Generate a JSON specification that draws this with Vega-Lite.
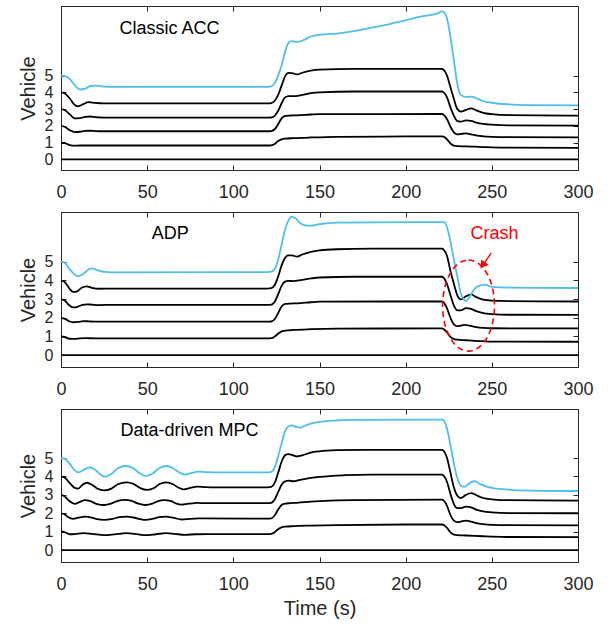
{
"$schema": "https://vega.github.io/schema/vega-lite/v6.json",
"padding": {"left": 17, "top": 5, "right": 5, "bottom": 5},
"background": "white",
"config": {
  "font": "Liberation Sans",
  "view": {"stroke": "#262626", "strokeWidth": 1},
  "axis": {"grid": false, "domainColor": "#262626", "tickColor": "#262626", "labelColor": "#262626", "titleColor": "#262626", "labelFont": "Liberation Sans", "titleFont": "Liberation Sans", "labelFontSize": 18, "titleFontSize": 20, "titleFontWeight": "normal", "tickSize": -5, "labelFlush": false, "labelOverlap": false},
  "axisY": {"labelFontSize": 16},
  "line": {"strokeWidth": 1.8, "interpolate": "monotone"},
  "text": {"font": "Liberation Sans", "fontSize": 18, "color": "#000000"}
},
"spacing": 42,
"bounds": "flush",
"datasets": {
"acc": [
{"v":0,"t":0,"y":0},{"v":0,"t":300,"y":0},
{"v":1,"t":0,"y":1.0},{"v":1,"t":2,"y":0.98},{"v":1,"t":5,"y":0.86},{"v":1,"t":8,"y":0.82},{"v":1,"t":11,"y":0.83},{"v":1,"t":120,"y":0.83},{"v":1,"t":122,"y":0.84},{"v":1,"t":124,"y":0.92},{"v":1,"t":126,"y":1.1},{"v":1,"t":128,"y":1.2},{"v":1,"t":130,"y":1.24},{"v":1,"t":135,"y":1.27},{"v":1,"t":145,"y":1.31},{"v":1,"t":160,"y":1.35},{"v":1,"t":200,"y":1.37},{"v":1,"t":221,"y":1.38},{"v":1,"t":222,"y":1.36},{"v":1,"t":224,"y":1.2},{"v":1,"t":226,"y":0.95},{"v":1,"t":228,"y":0.82},{"v":1,"t":230,"y":0.79},{"v":1,"t":235,"y":0.78},{"v":1,"t":240,"y":0.76},{"v":1,"t":245,"y":0.74},{"v":1,"t":250,"y":0.72},{"v":1,"t":260,"y":0.7},{"v":1,"t":300,"y":0.69},
{"v":2,"t":0,"y":2.0},{"v":2,"t":2,"y":1.95},{"v":2,"t":5,"y":1.75},{"v":2,"t":8,"y":1.63},{"v":2,"t":11,"y":1.65},{"v":2,"t":14,"y":1.7},{"v":2,"t":17,"y":1.71},{"v":2,"t":20,"y":1.69},{"v":2,"t":25,"y":1.68},{"v":2,"t":120,"y":1.68},{"v":2,"t":122,"y":1.69},{"v":2,"t":124,"y":1.8},{"v":2,"t":126,"y":2.1},{"v":2,"t":128,"y":2.45},{"v":2,"t":130,"y":2.6},{"v":2,"t":133,"y":2.62},{"v":2,"t":137,"y":2.63},{"v":2,"t":145,"y":2.68},{"v":2,"t":150,"y":2.7},{"v":2,"t":221,"y":2.71},{"v":2,"t":222,"y":2.67},{"v":2,"t":224,"y":2.4},{"v":2,"t":226,"y":1.95},{"v":2,"t":228,"y":1.62},{"v":2,"t":230,"y":1.5},{"v":2,"t":232,"y":1.52},{"v":2,"t":235,"y":1.55},{"v":2,"t":238,"y":1.5},{"v":2,"t":241,"y":1.43},{"v":2,"t":245,"y":1.38},{"v":2,"t":250,"y":1.35},{"v":2,"t":260,"y":1.33},{"v":2,"t":300,"y":1.32},
{"v":3,"t":0,"y":3.0},{"v":3,"t":2,"y":2.95},{"v":3,"t":5,"y":2.7},{"v":3,"t":8,"y":2.45},{"v":3,"t":11,"y":2.46},{"v":3,"t":14,"y":2.54},{"v":3,"t":17,"y":2.56},{"v":3,"t":20,"y":2.52},{"v":3,"t":25,"y":2.49},{"v":3,"t":120,"y":2.49},{"v":3,"t":122,"y":2.5},{"v":3,"t":124,"y":2.6},{"v":3,"t":126,"y":2.9},{"v":3,"t":128,"y":3.35},{"v":3,"t":130,"y":3.7},{"v":3,"t":132,"y":3.78},{"v":3,"t":135,"y":3.77},{"v":3,"t":138,"y":3.8},{"v":3,"t":145,"y":3.95},{"v":3,"t":150,"y":4.0},{"v":3,"t":170,"y":4.05},{"v":3,"t":221,"y":4.05},{"v":3,"t":222,"y":4.0},{"v":3,"t":224,"y":3.7},{"v":3,"t":226,"y":3.1},{"v":3,"t":228,"y":2.6},{"v":3,"t":230,"y":2.28},{"v":3,"t":232,"y":2.25},{"v":3,"t":235,"y":2.33},{"v":3,"t":238,"y":2.3},{"v":3,"t":241,"y":2.2},{"v":3,"t":245,"y":2.12},{"v":3,"t":250,"y":2.07},{"v":3,"t":260,"y":2.03},{"v":3,"t":300,"y":2.02},
{"v":4,"t":0,"y":4.0},{"v":4,"t":2,"y":3.95},{"v":4,"t":5,"y":3.65},{"v":4,"t":8,"y":3.25},{"v":4,"t":10,"y":3.17},{"v":4,"t":13,"y":3.3},{"v":4,"t":16,"y":3.42},{"v":4,"t":20,"y":3.37},{"v":4,"t":25,"y":3.34},{"v":4,"t":120,"y":3.34},{"v":4,"t":122,"y":3.36},{"v":4,"t":124,"y":3.5},{"v":4,"t":126,"y":3.85},{"v":4,"t":128,"y":4.4},{"v":4,"t":130,"y":4.95},{"v":4,"t":132,"y":5.16},{"v":4,"t":134,"y":5.15},{"v":4,"t":137,"y":5.07},{"v":4,"t":140,"y":5.17},{"v":4,"t":145,"y":5.3},{"v":4,"t":150,"y":5.36},{"v":4,"t":170,"y":5.4},{"v":4,"t":221,"y":5.4},{"v":4,"t":222,"y":5.35},{"v":4,"t":224,"y":5.0},{"v":4,"t":226,"y":4.3},{"v":4,"t":228,"y":3.6},{"v":4,"t":230,"y":3.0},{"v":4,"t":232,"y":2.85},{"v":4,"t":235,"y":2.95},{"v":4,"t":238,"y":3.05},{"v":4,"t":241,"y":2.93},{"v":4,"t":245,"y":2.78},{"v":4,"t":250,"y":2.7},{"v":4,"t":260,"y":2.64},{"v":4,"t":300,"y":2.61},
{"v":5,"t":0,"y":5.0},{"v":5,"t":2,"y":4.98},{"v":5,"t":5,"y":4.8},{"v":5,"t":8,"y":4.42},{"v":5,"t":11,"y":4.17},{"v":5,"t":14,"y":4.22},{"v":5,"t":17,"y":4.38},{"v":5,"t":20,"y":4.4},{"v":5,"t":25,"y":4.34},{"v":5,"t":30,"y":4.33},{"v":5,"t":120,"y":4.33},{"v":5,"t":122,"y":4.35},{"v":5,"t":124,"y":4.55},{"v":5,"t":126,"y":5.0},{"v":5,"t":128,"y":5.6},{"v":5,"t":130,"y":6.4},{"v":5,"t":132,"y":6.95},{"v":5,"t":134,"y":7.05},{"v":5,"t":137,"y":7.0},{"v":5,"t":140,"y":7.08},{"v":5,"t":145,"y":7.33},{"v":5,"t":150,"y":7.43},{"v":5,"t":160,"y":7.5},{"v":5,"t":170,"y":7.65},{"v":5,"t":180,"y":7.85},{"v":5,"t":190,"y":8.06},{"v":5,"t":200,"y":8.3},{"v":5,"t":210,"y":8.54},{"v":5,"t":219,"y":8.73},{"v":5,"t":221,"y":8.83},{"v":5,"t":222,"y":8.8},{"v":5,"t":224,"y":8.4},{"v":5,"t":226,"y":7.3},{"v":5,"t":228,"y":5.9},{"v":5,"t":230,"y":4.5},{"v":5,"t":232,"y":3.85},{"v":5,"t":235,"y":3.72},{"v":5,"t":238,"y":3.75},{"v":5,"t":241,"y":3.65},{"v":5,"t":245,"y":3.47},{"v":5,"t":250,"y":3.38},{"v":5,"t":260,"y":3.28},{"v":5,"t":270,"y":3.24},{"v":5,"t":300,"y":3.22}
],
"adp": [
{"v":0,"t":0,"y":0},{"v":0,"t":300,"y":0},
{"v":1,"t":0,"y":1.0},{"v":1,"t":2,"y":0.97},{"v":1,"t":5,"y":0.88},{"v":1,"t":8,"y":0.87},{"v":1,"t":11,"y":0.9},{"v":1,"t":14,"y":0.91},{"v":1,"t":20,"y":0.9},{"v":1,"t":120,"y":0.9},{"v":1,"t":122,"y":0.91},{"v":1,"t":124,"y":1.0},{"v":1,"t":126,"y":1.15},{"v":1,"t":128,"y":1.27},{"v":1,"t":130,"y":1.31},{"v":1,"t":135,"y":1.35},{"v":1,"t":145,"y":1.39},{"v":1,"t":160,"y":1.42},{"v":1,"t":221,"y":1.43},{"v":1,"t":222,"y":1.4},{"v":1,"t":224,"y":1.22},{"v":1,"t":226,"y":0.98},{"v":1,"t":228,"y":0.86},{"v":1,"t":230,"y":0.83},{"v":1,"t":235,"y":0.8},{"v":1,"t":240,"y":0.77},{"v":1,"t":245,"y":0.75},{"v":1,"t":250,"y":0.73},{"v":1,"t":300,"y":0.72},
{"v":2,"t":0,"y":2.0},{"v":2,"t":2,"y":1.95},{"v":2,"t":5,"y":1.8},{"v":2,"t":7,"y":1.76},{"v":2,"t":10,"y":1.78},{"v":2,"t":13,"y":1.82},{"v":2,"t":16,"y":1.81},{"v":2,"t":20,"y":1.79},{"v":2,"t":120,"y":1.79},{"v":2,"t":122,"y":1.8},{"v":2,"t":124,"y":1.92},{"v":2,"t":126,"y":2.25},{"v":2,"t":128,"y":2.6},{"v":2,"t":130,"y":2.74},{"v":2,"t":133,"y":2.76},{"v":2,"t":137,"y":2.77},{"v":2,"t":145,"y":2.83},{"v":2,"t":150,"y":2.86},{"v":2,"t":221,"y":2.87},{"v":2,"t":222,"y":2.83},{"v":2,"t":224,"y":2.5},{"v":2,"t":226,"y":2.0},{"v":2,"t":228,"y":1.65},{"v":2,"t":230,"y":1.55},{"v":2,"t":232,"y":1.58},{"v":2,"t":234,"y":1.62},{"v":2,"t":237,"y":1.58},{"v":2,"t":241,"y":1.5},{"v":2,"t":245,"y":1.46},{"v":2,"t":250,"y":1.44},{"v":2,"t":300,"y":1.43},
{"v":3,"t":0,"y":3.0},{"v":3,"t":2,"y":2.93},{"v":3,"t":5,"y":2.65},{"v":3,"t":7,"y":2.55},{"v":3,"t":9,"y":2.57},{"v":3,"t":12,"y":2.68},{"v":3,"t":15,"y":2.72},{"v":3,"t":18,"y":2.7},{"v":3,"t":22,"y":2.68},{"v":3,"t":30,"y":2.69},{"v":3,"t":120,"y":2.69},{"v":3,"t":122,"y":2.7},{"v":3,"t":124,"y":2.85},{"v":3,"t":126,"y":3.25},{"v":3,"t":128,"y":3.7},{"v":3,"t":130,"y":3.93},{"v":3,"t":132,"y":3.97},{"v":3,"t":135,"y":3.96},{"v":3,"t":138,"y":4.0},{"v":3,"t":145,"y":4.1},{"v":3,"t":150,"y":4.15},{"v":3,"t":170,"y":4.19},{"v":3,"t":221,"y":4.19},{"v":3,"t":222,"y":4.14},{"v":3,"t":224,"y":3.8},{"v":3,"t":226,"y":3.2},{"v":3,"t":228,"y":2.65},{"v":3,"t":230,"y":2.4},{"v":3,"t":232,"y":2.4},{"v":3,"t":235,"y":2.52},{"v":3,"t":238,"y":2.47},{"v":3,"t":241,"y":2.35},{"v":3,"t":245,"y":2.25},{"v":3,"t":250,"y":2.2},{"v":3,"t":260,"y":2.16},{"v":3,"t":300,"y":2.15},
{"v":4,"t":0,"y":4.0},{"v":4,"t":2,"y":3.92},{"v":4,"t":5,"y":3.55},{"v":4,"t":7,"y":3.38},{"v":4,"t":9,"y":3.4},{"v":4,"t":12,"y":3.6},{"v":4,"t":15,"y":3.68},{"v":4,"t":18,"y":3.6},{"v":4,"t":22,"y":3.55},{"v":4,"t":30,"y":3.56},{"v":4,"t":120,"y":3.56},{"v":4,"t":122,"y":3.58},{"v":4,"t":124,"y":3.75},{"v":4,"t":126,"y":4.2},{"v":4,"t":128,"y":4.8},{"v":4,"t":130,"y":5.2},{"v":4,"t":132,"y":5.33},{"v":4,"t":134,"y":5.33},{"v":4,"t":137,"y":5.27},{"v":4,"t":140,"y":5.38},{"v":4,"t":145,"y":5.52},{"v":4,"t":150,"y":5.6},{"v":4,"t":160,"y":5.66},{"v":4,"t":180,"y":5.69},{"v":4,"t":221,"y":5.69},{"v":4,"t":222,"y":5.64},{"v":4,"t":224,"y":5.3},{"v":4,"t":226,"y":4.5},{"v":4,"t":228,"y":3.8},{"v":4,"t":230,"y":3.2},{"v":4,"t":232,"y":2.98},{"v":4,"t":235,"y":3.15},{"v":4,"t":238,"y":3.25},{"v":4,"t":241,"y":3.1},{"v":4,"t":245,"y":2.97},{"v":4,"t":250,"y":2.92},{"v":4,"t":260,"y":2.89},{"v":4,"t":300,"y":2.87},
{"v":5,"t":0,"y":5.0},{"v":5,"t":2,"y":4.95},{"v":5,"t":5,"y":4.6},{"v":5,"t":8,"y":4.3},{"v":5,"t":10,"y":4.22},{"v":5,"t":13,"y":4.35},{"v":5,"t":16,"y":4.58},{"v":5,"t":18,"y":4.64},{"v":5,"t":21,"y":4.55},{"v":5,"t":25,"y":4.45},{"v":5,"t":30,"y":4.43},{"v":5,"t":120,"y":4.44},{"v":5,"t":122,"y":4.46},{"v":5,"t":124,"y":4.6},{"v":5,"t":126,"y":5.1},{"v":5,"t":128,"y":5.9},{"v":5,"t":130,"y":6.7},{"v":5,"t":132,"y":7.2},{"v":5,"t":134,"y":7.4},{"v":5,"t":136,"y":7.32},{"v":5,"t":139,"y":7.05},{"v":5,"t":142,"y":6.93},{"v":5,"t":145,"y":6.92},{"v":5,"t":150,"y":7.0},{"v":5,"t":160,"y":7.08},{"v":5,"t":222,"y":7.11},{"v":5,"t":223,"y":7.05},{"v":5,"t":225,"y":6.5},{"v":5,"t":228,"y":5.1},{"v":5,"t":230,"y":4.2},{"v":5,"t":232,"y":3.3},{"v":5,"t":234,"y":2.96},{"v":5,"t":235,"y":2.89},{"v":5,"t":237,"y":3.1},{"v":5,"t":240,"y":3.55},{"v":5,"t":243,"y":3.72},{"v":5,"t":246,"y":3.77},{"v":5,"t":250,"y":3.65},{"v":5,"t":260,"y":3.61},{"v":5,"t":300,"y":3.59}
],
"mpc": [
{"v":0,"t":0,"y":0},{"v":0,"t":300,"y":0},
{"v":1,"t":0,"y":1.01},{"v":1,"t":2,"y":0.98},{"v":1,"t":5,"y":0.86},{"v":1,"t":8,"y":0.87},{"v":1,"t":13,"y":0.92},{"v":1,"t":18,"y":0.88},{"v":1,"t":25,"y":0.81},{"v":1,"t":31,"y":0.85},{"v":1,"t":38,"y":0.92},{"v":1,"t":44,"y":0.87},{"v":1,"t":49,"y":0.81},{"v":1,"t":55,"y":0.86},{"v":1,"t":61,"y":0.92},{"v":1,"t":66,"y":0.88},{"v":1,"t":72,"y":0.83},{"v":1,"t":78,"y":0.86},{"v":1,"t":85,"y":0.87},{"v":1,"t":120,"y":0.87},{"v":1,"t":122,"y":0.88},{"v":1,"t":124,"y":0.97},{"v":1,"t":126,"y":1.13},{"v":1,"t":128,"y":1.23},{"v":1,"t":130,"y":1.27},{"v":1,"t":135,"y":1.3},{"v":1,"t":145,"y":1.33},{"v":1,"t":160,"y":1.36},{"v":1,"t":200,"y":1.39},{"v":1,"t":221,"y":1.39},{"v":1,"t":222,"y":1.37},{"v":1,"t":224,"y":1.2},{"v":1,"t":226,"y":0.96},{"v":1,"t":228,"y":0.84},{"v":1,"t":230,"y":0.81},{"v":1,"t":235,"y":0.79},{"v":1,"t":240,"y":0.77},{"v":1,"t":245,"y":0.75},{"v":1,"t":250,"y":0.73},{"v":1,"t":260,"y":0.71},{"v":1,"t":300,"y":0.7},
{"v":2,"t":0,"y":2.0},{"v":2,"t":2,"y":1.95},{"v":2,"t":4,"y":1.8},{"v":2,"t":7,"y":1.7},{"v":2,"t":10,"y":1.76},{"v":2,"t":14,"y":1.82},{"v":2,"t":18,"y":1.76},{"v":2,"t":21,"y":1.68},{"v":2,"t":25,"y":1.64},{"v":2,"t":30,"y":1.7},{"v":2,"t":34,"y":1.79},{"v":2,"t":38,"y":1.82},{"v":2,"t":42,"y":1.77},{"v":2,"t":46,"y":1.68},{"v":2,"t":49,"y":1.64},{"v":2,"t":53,"y":1.69},{"v":2,"t":57,"y":1.79},{"v":2,"t":61,"y":1.82},{"v":2,"t":65,"y":1.76},{"v":2,"t":70,"y":1.66},{"v":2,"t":75,"y":1.7},{"v":2,"t":80,"y":1.72},{"v":2,"t":120,"y":1.71},{"v":2,"t":122,"y":1.72},{"v":2,"t":124,"y":1.88},{"v":2,"t":126,"y":2.2},{"v":2,"t":128,"y":2.45},{"v":2,"t":130,"y":2.53},{"v":2,"t":133,"y":2.55},{"v":2,"t":137,"y":2.57},{"v":2,"t":145,"y":2.63},{"v":2,"t":150,"y":2.66},{"v":2,"t":170,"y":2.72},{"v":2,"t":221,"y":2.74},{"v":2,"t":222,"y":2.7},{"v":2,"t":224,"y":2.4},{"v":2,"t":226,"y":1.9},{"v":2,"t":228,"y":1.6},{"v":2,"t":230,"y":1.52},{"v":2,"t":232,"y":1.55},{"v":2,"t":235,"y":1.6},{"v":2,"t":238,"y":1.55},{"v":2,"t":241,"y":1.47},{"v":2,"t":245,"y":1.41},{"v":2,"t":250,"y":1.37},{"v":2,"t":260,"y":1.35},{"v":2,"t":300,"y":1.34},
{"v":3,"t":0,"y":3.0},{"v":3,"t":2,"y":2.93},{"v":3,"t":5,"y":2.65},{"v":3,"t":8,"y":2.51},{"v":3,"t":11,"y":2.62},{"v":3,"t":14,"y":2.71},{"v":3,"t":17,"y":2.66},{"v":3,"t":21,"y":2.5},{"v":3,"t":25,"y":2.45},{"v":3,"t":29,"y":2.52},{"v":3,"t":33,"y":2.68},{"v":3,"t":37,"y":2.73},{"v":3,"t":41,"y":2.67},{"v":3,"t":45,"y":2.52},{"v":3,"t":49,"y":2.45},{"v":3,"t":53,"y":2.52},{"v":3,"t":56,"y":2.65},{"v":3,"t":60,"y":2.71},{"v":3,"t":64,"y":2.66},{"v":3,"t":67,"y":2.52},{"v":3,"t":70,"y":2.47},{"v":3,"t":74,"y":2.52},{"v":3,"t":79,"y":2.56},{"v":3,"t":85,"y":2.55},{"v":3,"t":120,"y":2.55},{"v":3,"t":122,"y":2.57},{"v":3,"t":124,"y":2.75},{"v":3,"t":126,"y":3.15},{"v":3,"t":128,"y":3.55},{"v":3,"t":130,"y":3.74},{"v":3,"t":132,"y":3.77},{"v":3,"t":135,"y":3.74},{"v":3,"t":138,"y":3.8},{"v":3,"t":145,"y":3.92},{"v":3,"t":150,"y":3.98},{"v":3,"t":165,"y":4.07},{"v":3,"t":180,"y":4.1},{"v":3,"t":221,"y":4.1},{"v":3,"t":222,"y":4.05},{"v":3,"t":224,"y":3.7},{"v":3,"t":226,"y":3.05},{"v":3,"t":228,"y":2.5},{"v":3,"t":230,"y":2.28},{"v":3,"t":232,"y":2.28},{"v":3,"t":235,"y":2.36},{"v":3,"t":238,"y":2.32},{"v":3,"t":241,"y":2.2},{"v":3,"t":245,"y":2.1},{"v":3,"t":250,"y":2.05},{"v":3,"t":260,"y":2.01},{"v":3,"t":300,"y":2.0},
{"v":4,"t":0,"y":3.99},{"v":4,"t":2,"y":3.95},{"v":4,"t":5,"y":3.65},{"v":4,"t":8,"y":3.38},{"v":4,"t":10,"y":3.34},{"v":4,"t":12.5,"y":3.55},{"v":4,"t":15,"y":3.66},{"v":4,"t":18,"y":3.55},{"v":4,"t":21,"y":3.35},{"v":4,"t":25,"y":3.25},{"v":4,"t":29,"y":3.33},{"v":4,"t":33,"y":3.58},{"v":4,"t":38,"y":3.68},{"v":4,"t":42,"y":3.6},{"v":4,"t":46,"y":3.37},{"v":4,"t":50,"y":3.27},{"v":4,"t":54,"y":3.37},{"v":4,"t":57,"y":3.58},{"v":4,"t":61,"y":3.68},{"v":4,"t":65,"y":3.58},{"v":4,"t":68,"y":3.4},{"v":4,"t":71,"y":3.3},{"v":4,"t":75,"y":3.38},{"v":4,"t":79,"y":3.45},{"v":4,"t":84,"y":3.42},{"v":4,"t":90,"y":3.41},{"v":4,"t":120,"y":3.41},{"v":4,"t":122,"y":3.43},{"v":4,"t":124,"y":3.65},{"v":4,"t":126,"y":4.2},{"v":4,"t":128,"y":4.8},{"v":4,"t":130,"y":5.15},{"v":4,"t":132,"y":5.22},{"v":4,"t":134,"y":5.17},{"v":4,"t":137,"y":5.09},{"v":4,"t":140,"y":5.15},{"v":4,"t":145,"y":5.3},{"v":4,"t":150,"y":5.37},{"v":4,"t":160,"y":5.43},{"v":4,"t":175,"y":5.45},{"v":4,"t":221,"y":5.45},{"v":4,"t":222,"y":5.4},{"v":4,"t":224,"y":5.0},{"v":4,"t":226,"y":4.2},{"v":4,"t":228,"y":3.4},{"v":4,"t":230,"y":2.95},{"v":4,"t":232,"y":2.83},{"v":4,"t":235,"y":3.0},{"v":4,"t":238,"y":3.1},{"v":4,"t":241,"y":2.98},{"v":4,"t":245,"y":2.83},{"v":4,"t":250,"y":2.76},{"v":4,"t":260,"y":2.71},{"v":4,"t":300,"y":2.69},
{"v":5,"t":0,"y":5.0},{"v":5,"t":2,"y":4.97},{"v":5,"t":5,"y":4.7},{"v":5,"t":8,"y":4.33},{"v":5,"t":10,"y":4.22},{"v":5,"t":13,"y":4.35},{"v":5,"t":16.5,"y":4.49},{"v":5,"t":19,"y":4.42},{"v":5,"t":22,"y":4.18},{"v":5,"t":25.5,"y":3.99},{"v":5,"t":29,"y":4.12},{"v":5,"t":33,"y":4.45},{"v":5,"t":37.7,"y":4.57},{"v":5,"t":42,"y":4.45},{"v":5,"t":46,"y":4.15},{"v":5,"t":49.6,"y":4.03},{"v":5,"t":53,"y":4.15},{"v":5,"t":57,"y":4.45},{"v":5,"t":61.6,"y":4.57},{"v":5,"t":65,"y":4.45},{"v":5,"t":69,"y":4.2},{"v":5,"t":72,"y":4.1},{"v":5,"t":76,"y":4.2},{"v":5,"t":80,"y":4.26},{"v":5,"t":84,"y":4.24},{"v":5,"t":90,"y":4.22},{"v":5,"t":120,"y":4.22},{"v":5,"t":122,"y":4.25},{"v":5,"t":124,"y":4.5},{"v":5,"t":126,"y":5.1},{"v":5,"t":128,"y":5.8},{"v":5,"t":130,"y":6.45},{"v":5,"t":132,"y":6.73},{"v":5,"t":134,"y":6.78},{"v":5,"t":137,"y":6.68},{"v":5,"t":139,"y":6.66},{"v":5,"t":142,"y":6.78},{"v":5,"t":146,"y":6.9},{"v":5,"t":150,"y":6.97},{"v":5,"t":160,"y":7.05},{"v":5,"t":170,"y":7.08},{"v":5,"t":221,"y":7.09},{"v":5,"t":222,"y":7.05},{"v":5,"t":224,"y":6.6},{"v":5,"t":226,"y":5.7},{"v":5,"t":228,"y":4.7},{"v":5,"t":230,"y":3.9},{"v":5,"t":232,"y":3.5},{"v":5,"t":234,"y":3.43},{"v":5,"t":236,"y":3.55},{"v":5,"t":238,"y":3.7},{"v":5,"t":240,"y":3.74},{"v":5,"t":243,"y":3.6},{"v":5,"t":247,"y":3.45},{"v":5,"t":250,"y":3.38},{"v":5,"t":258,"y":3.3},{"v":5,"t":265,"y":3.25},{"v":5,"t":300,"y":3.21}
]
},
"vconcat": [
{
 "width": 517, "height": 164,
 "resolve": {"axis": {"x": "independent", "y": "independent"}},
 "layer": [
  {"data": {"name": "acc"}, "mark": {"type": "line"},
   "encoding": {
    "x": {"field": "t", "type": "quantitative", "scale": {"domain": [0, 300], "nice": false, "zero": false}, "axis": {"values": [0, 50, 100, 150, 200, 250, 300], "title": null, "labelPadding": 18, "labelOverlap": false, "labelFlush": false}},
    "y": {"field": "y", "type": "quantitative", "scale": {"domain": [-0.63, 9.15], "nice": false, "zero": false}, "axis": {"values": [0, 1, 2, 3, 4, 5], "title": "Vehicle", "labelPadding": 13, "titlePadding": 6, "labelOverlap": false}},
    "color": {"field": "v", "type": "nominal", "scale": {"domain": [0, 1, 2, 3, 4, 5], "range": ["#000000", "#000000", "#000000", "#000000", "#000000", "#4DBEEE"]}, "legend": null}
   }},
  {"data": {"values": [{"t": 34, "y": 7.8, "label": "Classic ACC"}]}, "mark": {"type": "text", "align": "left", "baseline": "middle"},
   "encoding": {"x": {"field": "t", "type": "quantitative", "axis": {"orient": "top", "values": [0, 50, 100, 150, 200, 250, 300], "labels": false, "title": null, "domain": false}}, "y": {"field": "y", "type": "quantitative", "axis": {"orient": "right", "values": [0, 1, 2, 3, 4, 5], "labels": false, "title": null, "domain": false}}, "text": {"field": "label"}}}
 ]
},
{
 "width": 517, "height": 155,
 "resolve": {"axis": {"x": "independent", "y": "independent"}},
 "layer": [
  {"data": {"name": "adp"}, "mark": {"type": "line"},
   "encoding": {
    "x": {"field": "t", "type": "quantitative", "scale": {"domain": [0, 300], "nice": false, "zero": false}, "axis": {"values": [0, 50, 100, 150, 200, 250, 300], "title": null, "labelPadding": 18, "labelOverlap": false, "labelFlush": false}},
    "y": {"field": "y", "type": "quantitative", "scale": {"domain": [-0.63, 7.65], "nice": false, "zero": false}, "axis": {"values": [0, 1, 2, 3, 4, 5], "title": "Vehicle", "labelPadding": 13, "titlePadding": 6, "labelOverlap": false}},
    "color": {"field": "v", "type": "nominal", "scale": {"domain": [0, 1, 2, 3, 4, 5], "range": ["#000000", "#000000", "#000000", "#000000", "#000000", "#4DBEEE"]}, "legend": null}
   }},
  {"data": {"values": [{"t": 52.6, "y": 6.5, "label": "ADP"}]}, "mark": {"type": "text", "align": "left", "baseline": "middle"},
   "encoding": {"x": {"field": "t", "type": "quantitative", "axis": {"orient": "top", "values": [0, 50, 100, 150, 200, 250, 300], "labels": false, "title": null, "domain": false}}, "y": {"field": "y", "type": "quantitative", "axis": {"orient": "right", "values": [0, 1, 2, 3, 4, 5], "labels": false, "title": null, "domain": false}}, "text": {"field": "label"}}},
  {"data": {"values": [{"t": 251.5, "y": 6.45, "label": "Crash"}]}, "mark": {"type": "text", "align": "center", "baseline": "middle", "color": "#FF0000"},
   "encoding": {"x": {"field": "t", "type": "quantitative", "axis": null}, "y": {"field": "y", "type": "quantitative", "axis": null}, "text": {"field": "label"}}},
  {"data": {"values": [{"t": 236.5, "y": 2.65}]}, "mark": {"type": "point", "shape": "M0,-1A0.57,1 0 1,1 0,1A0.57,1 0 1,1 0,-1Z", "size": 8300, "filled": false, "stroke": "#FF0000", "strokeWidth": 1.6, "strokeDash": [6, 4], "opacity": 1},
   "encoding": {"x": {"field": "t", "type": "quantitative", "axis": null}, "y": {"field": "y", "type": "quantitative", "axis": null}}},
  {"data": {"values": [{"t": 249.6, "y": 5.45, "t2": 245.3, "y2": 4.88}]}, "mark": {"type": "rule", "color": "#FF0000", "strokeWidth": 1.4},
   "encoding": {"x": {"field": "t", "type": "quantitative", "axis": null}, "y": {"field": "y", "type": "quantitative", "axis": null}, "x2": {"field": "t2"}, "y2": {"field": "y2"}}},
  {"data": {"values": [{"t": 244.7, "y": 4.8}]}, "mark": {"type": "point", "shape": "triangle-down", "size": 80, "filled": true, "color": "#FF0000", "angle": 35, "opacity": 1},
   "encoding": {"x": {"field": "t", "type": "quantitative", "axis": null}, "y": {"field": "y", "type": "quantitative", "axis": null}}}
 ]
},
{
 "width": 517, "height": 153,
 "resolve": {"axis": {"x": "independent", "y": "independent"}},
 "layer": [
  {"data": {"name": "mpc"}, "mark": {"type": "line"},
   "encoding": {
    "x": {"field": "t", "type": "quantitative", "scale": {"domain": [0, 300], "nice": false, "zero": false}, "axis": {"values": [0, 50, 100, 150, 200, 250, 300], "title": "Time (s)", "labelPadding": 18, "titlePadding": 5, "labelOverlap": false, "labelFlush": false}},
    "y": {"field": "y", "type": "quantitative", "scale": {"domain": [-0.65, 7.67], "nice": false, "zero": false}, "axis": {"values": [0, 1, 2, 3, 4, 5], "title": "Vehicle", "labelPadding": 13, "titlePadding": 6, "labelOverlap": false}},
    "color": {"field": "v", "type": "nominal", "scale": {"domain": [0, 1, 2, 3, 4, 5], "range": ["#000000", "#000000", "#000000", "#000000", "#000000", "#4DBEEE"]}, "legend": null}
   }},
  {"data": {"values": [{"t": 34.5, "y": 6.48, "label": "Data-driven MPC"}]}, "mark": {"type": "text", "align": "left", "baseline": "middle"},
   "encoding": {"x": {"field": "t", "type": "quantitative", "axis": {"orient": "top", "values": [0, 50, 100, 150, 200, 250, 300], "labels": false, "title": null, "domain": false}}, "y": {"field": "y", "type": "quantitative", "axis": {"orient": "right", "values": [0, 1, 2, 3, 4, 5], "labels": false, "title": null, "domain": false}}, "text": {"field": "label"}}}
 ]
}
]
}
